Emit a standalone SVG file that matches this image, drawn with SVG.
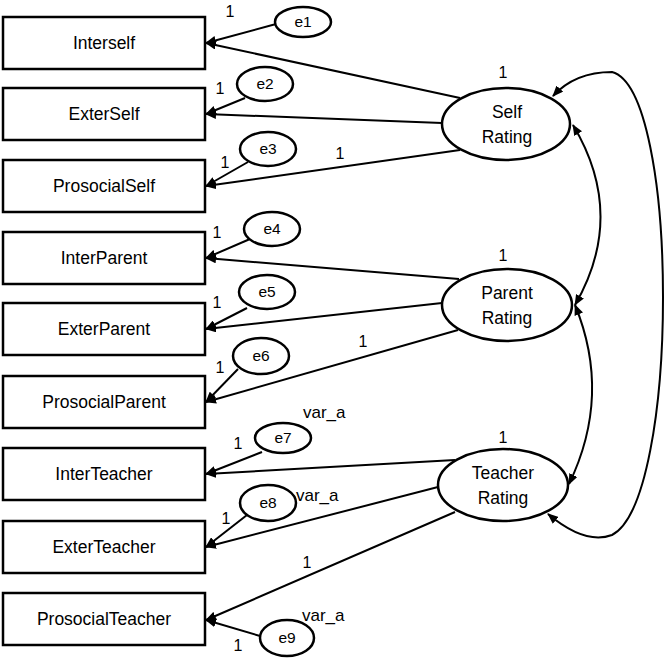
<svg xmlns="http://www.w3.org/2000/svg" width="670" height="660" viewBox="0 0 670 660">
<style>
.box{fill:#fff;stroke:#000;stroke-width:2.5}
.ell{fill:#fff;stroke:#000;stroke-width:2.5}
.lbl{font-family:"Liberation Sans",Arial,sans-serif;font-size:17.5px;text-anchor:middle;fill:#000}
.el{font-family:"Liberation Sans",Arial,sans-serif;font-size:15.5px;text-anchor:middle;fill:#000}
.num{font-family:"Liberation Sans",Arial,sans-serif;font-size:16px;text-anchor:middle;fill:#000}
.var{font-family:"Liberation Sans",Arial,sans-serif;font-size:17px;fill:#000}
.ln{fill:none;stroke:#000;stroke-width:2;marker-end:url(#ah)}
.cv{fill:none;stroke:#000;stroke-width:2;marker-start:url(#ah);marker-end:url(#ah)}
</style>
<defs>
<marker id="ah" markerUnits="userSpaceOnUse" markerWidth="11" markerHeight="9" refX="10" refY="4.5" orient="auto-start-reverse">
<path d="M0,0 L11,4.5 L0,9 z" fill="#000"/>
</marker>
</defs>
<rect width="670" height="660" fill="#fff"/>

<g id="connectors">
<path class="ln" d="M460,98 L206,43"/>
<path class="ln" d="M442,123 L206,114"/>
<path class="ln" d="M460,150 L206,186"/>
<path class="ln" d="M459,279 L206,258"/>
<path class="ln" d="M442,303 L206,329"/>
<path class="ln" d="M458,330 L206,402"/>
<path class="ln" d="M455,460 L206,474"/>
<path class="ln" d="M438,487 L206,547"/>
<path class="ln" d="M455,512 L206,620"/>
<path class="ln" d="M276,24 L206,43"/>
<path class="ln" d="M245,98 L206,114"/>
<path class="ln" d="M248,162 L206,186"/>
<path class="ln" d="M250,239 L206,258"/>
<path class="ln" d="M247,308 L206,329"/>
<path class="ln" d="M238,369 L206,402"/>
<path class="ln" d="M262,452 L206,474"/>
<path class="ln" d="M247,515 L206,547"/>
<path class="ln" d="M260,636 L206,620"/>
<path class="cv" d="M573,125 Q627,215 575,305"/>
<path class="cv" d="M575,305 Q612,395 569,484"/>
<path class="cv" d="M553,96 Q575,72 612,72 C680,90 680,500 612,535 Q585,545 548,514"/>
<text class="num" x="230" y="17">1</text>
<text class="num" x="220" y="94">1</text>
<text class="num" x="225" y="168">1</text>
<text class="num" x="217" y="238">1</text>
<text class="num" x="217" y="308">1</text>
<text class="num" x="220" y="373">1</text>
<text class="num" x="238" y="449">1</text>
<text class="num" x="226" y="524">1</text>
<text class="num" x="238" y="651">1</text>
<text class="num" x="340" y="159">1</text>
<text class="num" x="363" y="347">1</text>
<text class="num" x="307" y="568">1</text>
</g>

<g id="Interself"><rect class="box" x="3" y="17" width="202" height="52"/><text class="lbl" x="104" y="49">Interself</text></g>
<g id="ExterSelf"><rect class="box" x="3" y="88" width="202" height="52"/><text class="lbl" x="104" y="120">ExterSelf</text></g>
<g id="ProsocialSelf"><rect class="box" x="3" y="160" width="202" height="52"/><text class="lbl" x="104" y="192">ProsocialSelf</text></g>
<g id="InterParent"><rect class="box" x="3" y="232" width="202" height="52"/><text class="lbl" x="104" y="264">InterParent</text></g>
<g id="ExterParent"><rect class="box" x="3" y="303" width="202" height="52"/><text class="lbl" x="104" y="335">ExterParent</text></g>
<g id="ProsocialParent"><rect class="box" x="3" y="376" width="202" height="52"/><text class="lbl" x="104" y="408">ProsocialParent</text></g>
<g id="InterTeacher"><rect class="box" x="3" y="448" width="202" height="52"/><text class="lbl" x="104" y="480">InterTeacher</text></g>
<g id="ExterTeacher"><rect class="box" x="3" y="521" width="202" height="52"/><text class="lbl" x="104" y="553">ExterTeacher</text></g>
<g id="ProsocialTeacher"><rect class="box" x="3" y="593" width="202" height="52"/><text class="lbl" x="104" y="625">ProsocialTeacher</text></g>

<g id="e1"><ellipse class="ell" cx="303" cy="22" rx="28" ry="15"/><text class="el" x="303" y="27">e1</text></g>
<g id="e2"><ellipse class="ell" cx="265" cy="84" rx="28" ry="17"/><text class="el" x="265" y="89">e2</text></g>
<g id="e3"><ellipse class="ell" cx="268" cy="149" rx="28" ry="17"/><text class="el" x="268" y="154">e3</text></g>
<g id="e4"><ellipse class="ell" cx="272" cy="229" rx="28" ry="17"/><text class="el" x="272" y="234">e4</text></g>
<g id="e5"><ellipse class="ell" cx="267" cy="292" rx="28" ry="17"/><text class="el" x="267" y="297">e5</text></g>
<g id="e6"><ellipse class="ell" cx="261" cy="356" rx="28" ry="18"/><text class="el" x="261" y="361">e6</text></g>
<g id="e7"><ellipse class="ell" cx="283" cy="438" rx="28" ry="15"/><text class="el" x="283" y="443">e7</text><text class="var" x="303" y="418">var_a</text></g>
<g id="e8"><ellipse class="ell" cx="268" cy="503" rx="28" ry="18"/><text class="el" x="268" y="508">e8</text><text class="var" x="296" y="501">var_a</text></g>
<g id="e9"><ellipse class="ell" cx="287" cy="638" rx="27" ry="18"/><text class="el" x="287" y="643">e9</text><text class="var" x="302" y="621">var_a</text></g>

<g id="SelfRating"><ellipse class="ell" cx="506" cy="124" rx="64" ry="36"/><text class="lbl" x="507" y="118">Self</text><text class="lbl" x="507" y="143">Rating</text><text class="num" x="503" y="78">1</text></g>
<g id="ParentRating"><ellipse class="ell" cx="507" cy="305" rx="65" ry="36"/><text class="lbl" x="507" y="299">Parent</text><text class="lbl" x="507" y="324">Rating</text><text class="num" x="503" y="261">1</text></g>
<g id="TeacherRating"><ellipse class="ell" cx="503" cy="485" rx="65" ry="36"/><text class="lbl" x="503" y="479">Teacher</text><text class="lbl" x="503" y="504">Rating</text><text class="num" x="503" y="443">1</text></g>
</svg>
